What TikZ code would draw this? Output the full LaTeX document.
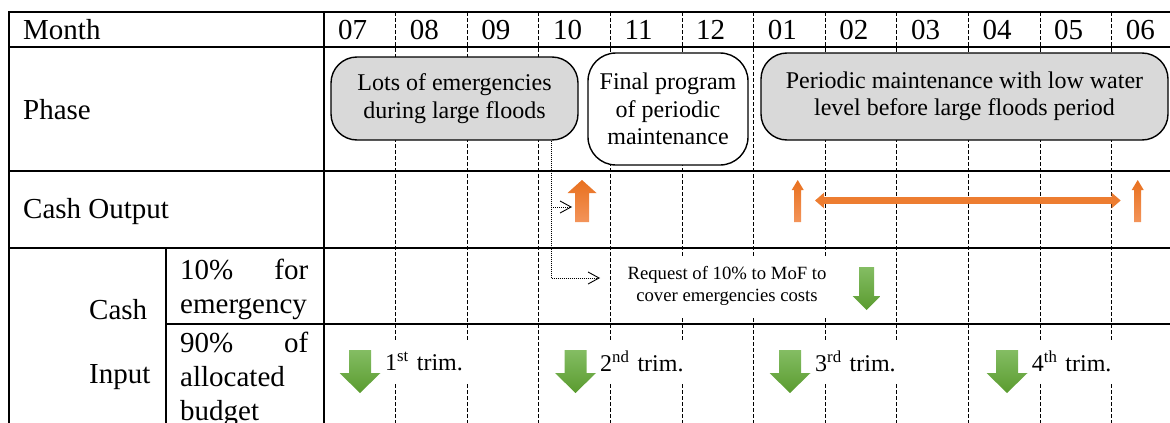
\documentclass[tikz,border=0pt]{standalone}
\usepackage{fontspec}
\setmainfont{Liberation Serif}
\usetikzlibrary{arrows.meta}
\definecolor{boxgray}{HTML}{D9D9D9}
\definecolor{outorange}{HTML}{ED7D31}
\definecolor{outorangetop}{HTML}{E8701E}
\definecolor{outorangebot}{HTML}{F3945A}
\definecolor{ingreentop}{HTML}{84BD63}
\definecolor{ingreenbot}{HTML}{5A9B2F}
\newcommand{\colw}{71.6}

\tikzset{
  pics/cashin/.style n args={4}{code={%
    \shade[top color=ingreentop, bottom color=ingreenbot]
      (-#1/2,0) -- (#1/2,0) -- (#1/2,#3-#4) -- (#2/2,#3-#4) -- (0,#3)
      -- (-#2/2,#3-#4) -- (-#1/2,#3-#4) -- cycle;}},
  pics/cashout/.style n args={4}{code={%
    \shade[top color=outorangetop, bottom color=outorangebot]
      (-#1/2,0) -- (#1/2,0) -- (#1/2,-#3+#4) -- (#2/2,-#3+#4) -- (0,-#3)
      -- (-#2/2,-#3+#4) -- (-#1/2,-#3+#4) -- cycle;}}
}

\begin{document}
\begin{tikzpicture}[
  x=1pt, y=-1pt,
  grid/.style = {line width=1.4pt},
  monthline/.style = {line width=0.9pt, dash pattern=on 4pt off 2pt},
  dotline/.style = {line width=0.9pt, dash pattern=on 1pt off 1pt, -{Straight Barb[length=11pt,width=12pt]}},
  rowlabel/.style = {font=\fontsize{29}{34}\selectfont, anchor=base west, inner sep=0pt},
  sublabel/.style = {rowlabel, text width=128pt, align=left},
  phasebox/.style = {draw, line width=1.4pt, rounded corners=26pt, align=center, font=\fontsize{24}{27.5}\selectfont},
  trimlabel/.style = {anchor=west, fill=white, text width=84pt, inner xsep=2pt, minimum height=42pt, align=left, font=\fontsize{24}{28}\selectfont},
  reqlabel/.style = {fill=white, align=center, inner sep=0pt, minimum width=216pt, minimum height=60pt, font=\fontsize{18.7}{22}\selectfont},
  outline/.style = {outorange, line width=7pt, {Triangle[length=9pt,width=15pt]}-{Triangle[length=9pt,width=15pt]}}
  ]
  \useasboundingbox (0,0) rectangle (1170,423);
  \clip (0,0) rectangle (1170,423);

  % month columns
  \foreach \i in {1,...,11}
    \draw[monthline] (324+\i*\colw,12) -- (324+\i*\colw,430);

  \draw[grid] (9,430) -- (9,12) -- (1183,12);
  \draw[grid] (9,47) -- (1183,47);
  \draw[grid] (9,171) -- (1183,171);
  \draw[grid] (9,248) -- (1183,248);
  \draw[grid] (166,324) -- (1183,324);
  \draw[grid] (324,12) -- (324,430);
  \draw[grid] (166,248) -- (166,430);

  \node[rowlabel] (month) at (23,39) {Month};
  \node[rowlabel] (phase) at (23,119) {Phase};
  \node[rowlabel] (output) at (23,218) {Cash Output};
  \node[rowlabel] (cash) at (89,319) {Cash};
  \node[rowlabel] (input) at (89,383) {Input};
  \node[sublabel] (tenpc) at (180,279) {10\%\hfill for\\emergency};
  \node[sublabel] (ninetypc) at (180,352) {90\%\hfill of\\allocated\\budget};

  \foreach \m [count=\i from 0] in {07,08,09,10,11,12,01,02,03,04,05,06}
    \node[rowlabel] (m\m) at (324+\i*\colw+14,39) {\m};

  \node[phasebox, fill=boxgray, minimum width=247pt, minimum height=83pt] (floods) at (454.5,98.5) {Lots of emergencies\\during large floods};
  \node[phasebox, fill=white, minimum width=160pt, minimum height=112pt, rounded corners=28pt] (final) at (668,109) {Final program\\of periodic\\maintenance};
  \node[phasebox, fill=boxgray, minimum width=407pt, minimum height=87pt] (periodic) at (964.5,96.5) {Periodic maintenance with low water\\level before large floods period};

  \node[reqlabel] (request) at (727,286) {Request of 10\% to MoF to\\cover emergencies costs};

  \node[trimlabel] (trimA) at (383,361) {1\textsuperscript{st} trim.};
  \node[trimlabel] (trimB) at (598,361) {2\textsuperscript{nd} trim.};
  \node[trimlabel] (trimC) at (813,361) {3\textsuperscript{rd} trim.};
  \node[trimlabel] (trimD) at (1029.7,361) {4\textsuperscript{th} trim.};

  \coordinate (split) at (551,207);
  \coordinate (outtip) at (572,207);
  \coordinate (reqtip) at (600,278);
  \draw[dotline] (floods.south -| split) |- (reqtip);
  \draw[dotline] (split) -- (outtip);

  \pic at (582,222) {cashout={14}{29}{42}{13}};
  \pic at (797.7,222) {cashout={7}{12}{42}{10}};
  \pic at (1137.7,222) {cashout={7}{12}{42}{10}};
  \coordinate (febstart) at (815,200.5);
  \coordinate (junend) at (1120.7,200.5);
  \draw[outline] (febstart) -- (junend);

  \pic at (866.7,267) {cashin={15}{28}{43}{14}};
  \foreach \x in {360,575.5,790,1007}
    \pic at (\x,350) {cashin={22}{41}{43}{20}};

\end{tikzpicture}
\end{document}
